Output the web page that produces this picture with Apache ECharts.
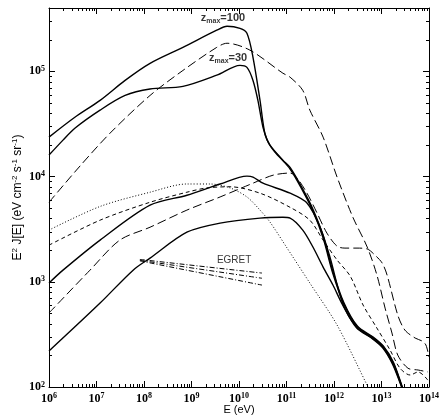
<!DOCTYPE html>
<html><head><meta charset="utf-8">
<script src="https://cdn.jsdelivr.net/npm/echarts@6/dist/echarts.min.js"></script>
<style>html,body{margin:0;padding:0;background:#fff}#c{width:443px;height:418px}</style>
</head><body><div id="c"></div>
<script>
// ---- axis ranges & tick labels ----
const xRange = [1e6, 1e14];
const yRange = [1e2, 4e5];
const xTickExponents = [6, 7, 8, 9, 10, 11, 12, 13, 14];
const yTickExponents = [2, 3, 4, 5];
const xDecades = [1e6, 1e7, 1e8, 1e9, 1e10, 1e11, 1e12, 1e13];
const yDecades = [1e2, 1e3, 1e4, 1e5];
const minorMultipliers = [2, 3, 4, 5, 6, 7, 8, 9];

// ---- curves: [E (eV), E^2 J(E)] ----
const zmax100Solid = [[1e6,2.37e4],[3.5e6,3.66e4],[1.19e7,5.3e4],[4.0e7,8.2e4],[1.34e8,1.19e5],[6.6e8,1.69e5],[3.4e9,2.46e5],[5.6e9,2.68e5],[1.05e10,2.56e5],[1.47e10,2.30e5],[1.97e10,1.36e5],[2.77e10,5.3e4],[3.5e10,2.58e4],[4.5e10,1.99e4],[8.4e10,1.43e4],[1.19e11,1.22e4],[2.2e11,7.6e3],[3.6e11,4.9e3],[5.9e11,2.75e3],[9.5e11,1.25e3],[1.6e12,640],[3.1e12,380],[6.8e12,296],[1.1e13,244],[1.78e13,172],[2.75e13,100],[3.3e13,80]];
const zmax30Solid = [[1e6,1.60e4],[1.97e6,2.22e4],[3.5e6,2.88e4],[1.19e7,4.28e4],[4.0e7,5.9e4],[1.34e8,6.8e4],[6.6e8,7.2e4],[3.4e9,9.2e4],[1.05e10,1.14e5],[1.47e10,1.09e5],[1.97e10,8.2e4],[2.5e10,5.3e4],[3.2e10,2.94e4],[4.1e10,2.12e4],[5.7e10,1.71e4],[1.19e11,1.18e4],[2.2e11,7.3e3],[3.6e11,4.7e3],[5.9e11,2.6e3],[9.5e11,1.19e3],[1.57e12,632],[3.07e12,375],[6.7e12,293],[1.09e13,241],[1.76e13,170],[2.72e13,100],[3.25e13,80]];
const upperLongDash = [[1e6,5.7e3],[4.5e6,1.26e4],[1.92e7,2.58e4],[1.34e8,5.9e4],[6.6e8,1.02e5],[3.4e9,1.69e5],[5.6e9,1.85e5],[1.7e10,1.59e5],[8.4e10,9.6e4],[1.19e11,8.8e4],[2.2e11,6.6e4],[3.1e11,4.28e4],[5.9e11,2.37e4],[1.16e12,9.9e3],[2.5e12,4.1e3],[5.0e12,2.14e3],[8.0e12,1.16e3],[1.19e13,562],[1.66e13,326],[2.2e13,201],[3.6e13,151],[5.9e13,145],[9.5e13,139]];
const middleSolid = [[1e6,973],[1.97e6,1.29e3],[1.19e7,2.49e3],[1.34e8,5.35e3],[8.0e8,6.65e3],[4.0e9,8.5e3],[1.47e10,1.01e4],[1.97e10,9.9e3],[3.2e10,8.65e3],[1.19e11,6.95e3],[2.7e11,5.6e3],[5.1e11,3.30e3],[8.2e11,1.72e3],[1.53e12,622],[3.02e12,369],[6.5e12,290],[1.07e13,238],[1.73e13,167],[2.68e13,100],[3.15e13,80]];
const lowerSolid = [[1e6,220],[1.19e7,628],[5.9e7,1.29e3],[1.34e8,1.68e3],[8.0e8,2.96e3],[4.0e9,3.61e3],[2.77e10,4.03e3],[8.4e10,4.1e3],[1.19e11,4.03e3],[2.2e11,3.10e3],[3.6e11,2.14e3],[5.9e11,1.38e3],[9.5e11,931],[1.5e12,610],[2.98e12,365],[6.4e12,288],[1.06e13,236],[1.71e13,165],[2.65e13,100],[3.1e13,80]];
const middleLongDash = [[1e6,505],[7.3e6,1.29e3],[3.1e7,2.49e3],[1.34e8,3.30e3],[8.0e8,4.8e3],[4.0e9,6.4e3],[1.97e10,8.65e3],[5.2e10,1.03e4],[1.19e11,1.08e4],[1.66e11,9.7e3],[2.7e11,6.95e3],[4.4e11,4.5e3],[7.1e11,2.90e3],[1.16e12,2.18e3],[1.7e12,2.09e3],[3.05e12,2.09e3],[5.0e12,2.05e3],[7.3e12,1.79e3],[1.03e13,1.51e3],[1.31e13,1.16e3],[2.2e13,483],[3.1e13,348],[5.1e13,292],[7.1e13,274],[8.6e13,251],[1e14,193]];
const middleShortDash = [[1e6,2.23e3],[1.19e7,3.85e3],[1.34e8,5.7e3],[8.0e8,7.1e3],[2.1e9,7.8e3],[6.5e9,8.0e3],[2.77e10,6.95e3],[1.19e11,5.1e3],[3.1e11,3.85e3],[5.9e11,2.49e3],[1.16e12,1.61e3],[2.2e12,1.13e3],[4.1e12,601],[8.0e12,363],[1.51e13,225],[2.45e13,151],[4.0e13,130],[5.9e13,139],[9.5e13,116]];
const dottedCurve = [[1e6,3.10e3],[1.19e7,5.2e3],[1.34e8,7.1e3],[8.0e8,8.5e3],[2.45e9,8.5e3],[6.5e9,7.8e3],[1.47e10,6.4e3],[2.77e10,4.8e3],[4.5e10,3.69e3],[1.03e11,2.09e3],[3.1e11,973],[1.16e12,388],[5.2e12,100],[6.3e12,84]];
const egretCentral = [[8.2e7,1.60e3],[3.05e10,1.08e3]];
const egretUpper = [[8.2e7,1.63e3],[3.05e10,1.21e3]];
const egretLower = [[8.2e7,1.58e3],[3.05e10,9.3e2]];

// ---- annotations ----
const annotationPoints = [[4.6e9, 3.19e5], [5.9e9, 1.33e5], [7.9e9, 1.6e3]];
const annotationTexts = ['{z|z}{m|max}{z|=100}', '{z|z}{m|max}{z|=30}', '{e|EGRET}'];

// ---- minor tick values (from decades x multipliers) ----
const xMinor = [], yMinor = [];
xDecades.forEach(d => minorMultipliers.forEach(m => xMinor.push([d * m, yRange[0]])));
yDecades.forEach(d => minorMultipliers.forEach(m => { if (d * m < yRange[1]) yMinor.push([xRange[0], d * m]); }));

function tickLabel(v, exps) {
  const e = Math.round(Math.log10(v));
  return exps.indexOf(e) >= 0 ? '{b|10}{s|' + e + '}' : '';
}
const tickRich = {
  b: {fontFamily: 'Liberation Serif', fontWeight: 'bold', fontSize: 12, color: '#000'},
  s: {fontFamily: 'Liberation Serif', fontWeight: 'bold', fontSize: 8, color: '#000', verticalAlign: 'top', padding: [0, 0, 5, 0]}
};

function lineSeries(data, type, width) {
  return {type: 'line', data: data, showSymbol: false, symbol: 'none', smooth: 0.3,
    silent: true, clip: true, lineStyle: {color: '#000', width: width, type: type}};
}

function px(v) { return Math.round(v) + 0.5; }
function minorXRender(params, api) {
  const v = api.value(0);
  const b = api.coord([v, yRange[0]]);
  const t = api.coord([v, yRange[1]]);
  const x = px(b[0]);
  return {type: 'group', children: [
    {type: 'line', shape: {x1: x, y1: b[1], x2: x, y2: b[1] - 3}, style: {stroke: '#000', lineWidth: 1}},
    {type: 'line', shape: {x1: x, y1: t[1], x2: x, y2: t[1] + 3}, style: {stroke: '#000', lineWidth: 1}}
  ]};
}
function minorYRender(params, api) {
  const v = api.value(1);
  const l = api.coord([xRange[0], v]);
  const r = api.coord([xRange[1], v]);
  const y = px(l[1]);
  return {type: 'group', children: [
    {type: 'line', shape: {x1: l[0], y1: y, x2: l[0] + 3, y2: y}, style: {stroke: '#000', lineWidth: 1}},
    {type: 'line', shape: {x1: r[0], y1: y, x2: r[0] - 3, y2: y}, style: {stroke: '#000', lineWidth: 1}}
  ]};
}

const axisCommon = {
  type: 'log', logBase: 10,
  axisLine: {show: true, onZero: false, lineStyle: {color: '#000', width: 1}},
  axisTick: {show: true, inside: true, length: 6, lineStyle: {color: '#000', width: 1}},
  splitLine: {show: false}, minorTick: {show: false}
};

const chart = echarts.init(document.getElementById('c'), null, {renderer: 'canvas'});
chart.setOption({
  animation: false,
  backgroundColor: '#fff',
  grid: {left: 49, right: 14, top: 8, bottom: 31, containLabel: false, outerBoundsMode: 'none'},
  xAxis: [
    Object.assign({}, axisCommon, {min: xRange[0], max: xRange[1], interval: 1, splitNumber: 8, position: 'bottom',
      axisLabel: {margin: 5, formatter: v => tickLabel(v, xTickExponents), rich: tickRich},
      name: 'E (eV)', nameLocation: 'middle', nameGap: 17, nameMoveOverlap: false,
      nameTextStyle: {fontFamily: 'Liberation Sans', fontSize: 11, color: '#000'}}),
    Object.assign({}, axisCommon, {min: xRange[0], max: xRange[1], interval: 1, splitNumber: 8, position: 'top',
      axisLabel: {show: false}})
  ],
  yAxis: [
    Object.assign({}, axisCommon, {min: yRange[0], max: yRange[1], interval: 1, position: 'left',
      axisLabel: {margin: 4, formatter: v => tickLabel(v, yTickExponents), rich: tickRich},
      name: '{n|E}{s|2}{n| J[E] (eV cm}{s|-2}{n| s}{s|-1}{n| sr}{s|-1}{n|)}', nameLocation: 'middle', nameGap: 25, nameMoveOverlap: false,
      nameTextStyle: {rich: {
        n: {fontFamily: 'Liberation Sans', fontSize: 12, color: '#000'},
        s: {fontFamily: 'Liberation Sans', fontSize: 8, color: '#000', verticalAlign: 'top', padding: [0, 0, 5, 0]}
      }}}),
    Object.assign({}, axisCommon, {min: yRange[0], max: yRange[1], interval: 1, position: 'right',
      axisLabel: {show: false}})
  ],
  series: [
    lineSeries(zmax100Solid, 'solid', 1.4),
    lineSeries(zmax30Solid, 'solid', 1.4),
    lineSeries(upperLongDash, [9, 4], 1),
    lineSeries(middleSolid, 'solid', 1.4),
    lineSeries(lowerSolid, 'solid', 1.4),
    lineSeries(middleLongDash, [9, 4], 1),
    lineSeries(middleShortDash, [4, 3], 1),
    lineSeries(dottedCurve, [1, 2], 1),
    lineSeries(egretCentral, [5, 2, 1, 2], 1),
    lineSeries(egretUpper, [5, 2, 1, 2], 1),
    lineSeries(egretLower, [5, 2, 1, 2], 1),
    {type: 'custom', data: xMinor, renderItem: minorXRender, silent: true, clip: false},
    {type: 'custom', data: yMinor, renderItem: minorYRender, silent: true, clip: false},
    {type: 'scatter', symbolSize: 0, silent: true,
      data: annotationPoints.map((p, i) => ({value: p, label: {formatter: annotationTexts[i]}})),
      label: {show: true, position: 'inside', color: '#000', rich: {
        z: {fontFamily: 'Liberation Sans', fontWeight: 'bold', fontSize: 11, color: '#000'},
        m: {fontFamily: 'Liberation Sans', fontWeight: 'bold', fontSize: 7, color: '#000', verticalAlign: 'bottom', padding: [6, 0, 0, 0]},
        e: {fontFamily: 'Liberation Sans', fontSize: 10, color: '#000'}
      }}}
  ]
});
</script>
</body></html>
